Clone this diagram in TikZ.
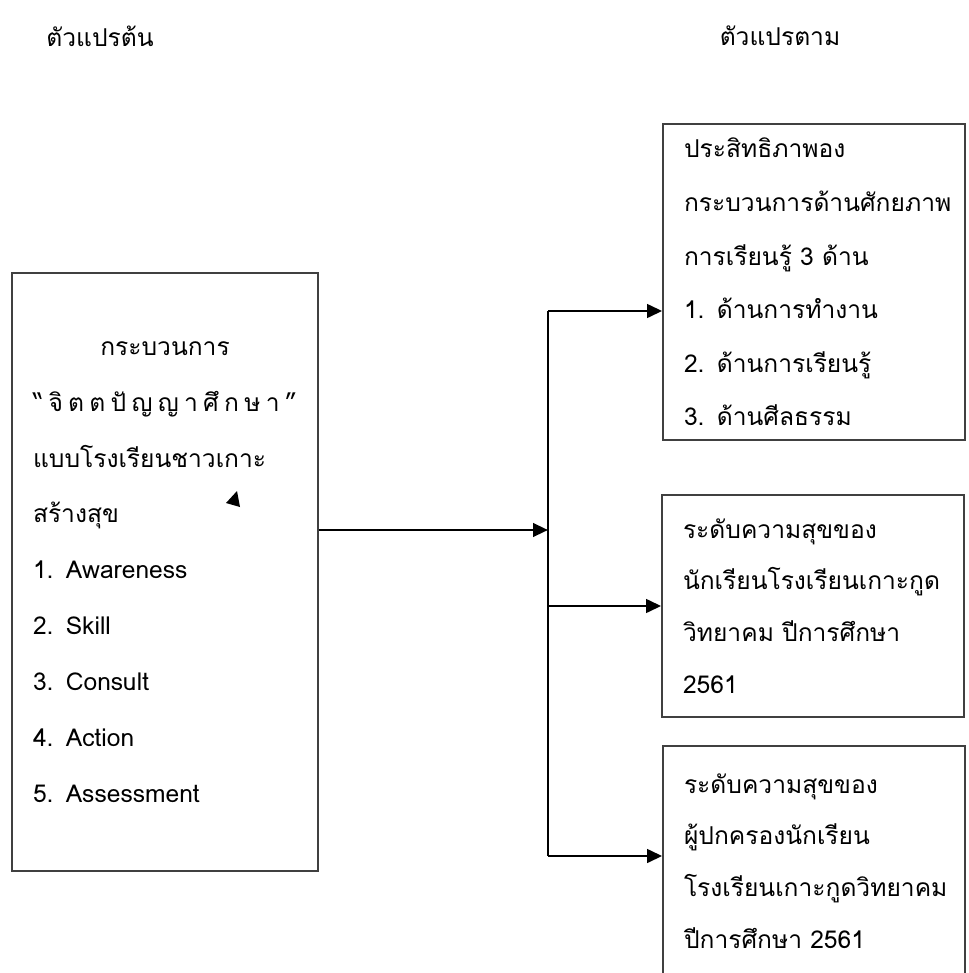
\documentclass[tikz,border=0pt]{standalone}
\usepackage{fontspec}
\newfontfamily\thaifont[Script=Thai]{Loma}
\usetikzlibrary{arrows.meta,positioning,calc}

\begin{document}
\begin{tikzpicture}[x=0.02cm,y=-0.02cm,
	varbox/.style={draw=black!75,line width=1pt,inner xsep=0.42cm,inner ysep=0pt,align=left,text width=5.2cm,font=\thaifont\fontsize{14}{29.5}\selectfont},
	conn/.style={line width=1.5pt,-{Triangle[length=0.3cm,width=0.27cm]}},
	head/.style={font=\thaifont\fontsize{14}{17}\selectfont}]
	\clip (0,0) rectangle (968,973);
	\node[head] (ind) at (100,36) {ตัวแปรต้น};
	\node[head] (dep) at (780,36) {ตัวแปรตาม};
	\node[varbox,text width=5.28cm,minimum height=11.96cm,font=\thaifont\fontsize{14}{31.8}\selectfont] (proc) at (165,572)
		{{\centering กระบวนการ\\ \makebox[\linewidth][s]{“\hfill จิ\hfill ต\hfill ต\hfill ปั\hfill ญ\hfill ญ\hfill า\hfill ศึ\hfill ก\hfill ษ\hfill า\hfill ”}\par}
		แบบโรงเรียนชาวเกาะ\\ สร้างสุข\\ 1. Awareness\\ 2. Skill\\ 3. Consult\\ 4. Action\\ 5. Assessment};
	\node[varbox,minimum height=6.32cm,font=\thaifont\fontsize{14}{30.5}\selectfont] (eff) at (814,282)
		{ประสิทธิภาพอง\\ กระบวนการด้านศักยภาพ\\ การเรียนรู้ 3 ด้าน\\ 1. ด้านการทำงาน\\ 2. ด้านการเรียนรู้\\ 3. ด้านศีลธรรม};
	\node[varbox,minimum height=4.44cm] (stu) at (813,606)
		{ระดับความสุขของ\\ นักเรียนโรงเรียนเกาะกูด\\ วิทยาคม ปีการศึกษา\\ 2561};
	\node[varbox,minimum height=4.6cm] (par) at (814,861)
		{ระดับความสุขของ\\ ผู้ปกครองนักเรียน\\ โรงเรียนเกาะกูดวิทยาคม\\ ปีการศึกษา 2561};
	\coordinate (hub) at (548,530);
	\coordinate (hubtop) at (548,311);
	\coordinate (hubbot) at (548,856);
	\draw[conn] (proc.east |- hub) -- (hub);
	\draw[line width=1.5pt] (hubtop) -- (hubbot);
	\draw[conn] (hubtop) -- (eff.west |- hubtop);
	\draw[conn] (hub |- stu.west) -- (stu.west);
	\draw[conn] (hubbot) -- (par.west |- hubbot);
	\fill (226,503) -- (237,491) -- (240,507) -- cycle;
\end{tikzpicture}
\end{document}
